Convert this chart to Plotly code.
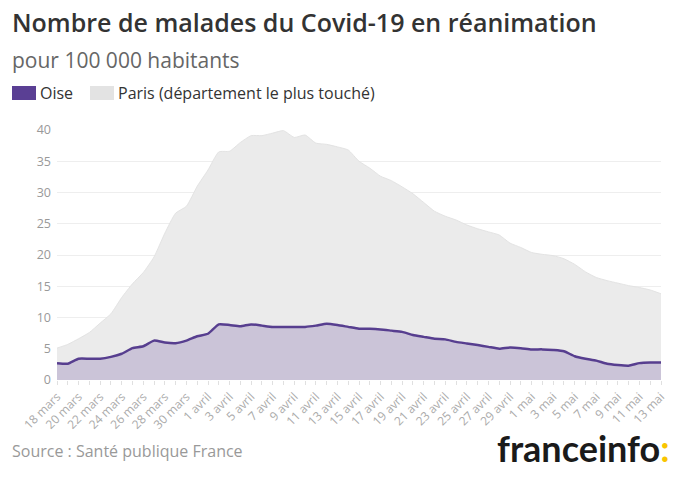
import datetime as dt
import plotly.graph_objects as go

# ---- data ----
start = dt.date(2020, 3, 18)
dates = [(start + dt.timedelta(days=i)).isoformat() for i in range(57)]

oise = [2.7, 2.6, 3.4, 3.4, 3.4, 3.7, 4.2, 5.1, 5.4, 6.3,
        6.0, 5.9, 6.3, 7.0, 7.4, 8.9, 8.8, 8.6, 8.9, 8.7,
        8.5, 8.5, 8.5, 8.5, 8.7, 9.0, 8.8, 8.5, 8.2, 8.2,
        8.1, 7.9, 7.7, 7.2, 6.9, 6.6, 6.5, 6.1, 5.85, 5.6,
        5.3, 5.0, 5.2, 5.1, 4.9, 4.9, 4.8, 4.6, 3.8, 3.4,
        3.1, 2.6, 2.4, 2.3, 2.7, 2.8, 2.8]

paris = [5.1, 5.7, 6.6, 7.6, 9.1, 10.6, 13.2, 15.4, 17.2, 19.7,
         23.5, 26.7, 27.8, 31.0, 33.6, 36.5, 36.6, 38.0, 39.1, 39.1,
         39.5, 39.9, 38.8, 39.2, 37.9, 37.7, 37.3, 36.8, 35.0, 33.9,
         32.6, 31.9, 30.9, 29.8, 28.4, 27.0, 26.2, 25.6, 24.8, 24.2,
         23.7, 23.2, 21.9, 21.2, 20.4, 20.1, 19.9, 19.4, 18.5, 17.3,
         16.4, 15.9, 15.5, 15.1, 14.8, 14.4, 13.8]

months = {3: "mars", 4: "avril", 5: "mai"}
tick_labels = []
for i in range(57):
    d = start + dt.timedelta(days=i)
    tick_labels.append(f"{d.day} {months[d.month]}" if i % 2 == 0 else "")

y_ticks = [0, 5, 10, 15, 20, 25, 30, 35, 40]

# ---- figure ----
W, H = 680, 480
L, R, T, B = 57, 19, 130, 100
pw, ph = W - L - R, H - T - B


def px(x):
    return (x - L) / pw


def py(y):
    return (H - B - y) / ph


FONT = "Open Sans"
fig = go.Figure()
fig.add_trace(go.Scatter(
    x=dates, y=paris, mode="lines", fill="tozeroy",
    fillcolor="#ebebeb", line=dict(color="#e3e3e3", width=1, shape="spline", smoothing=0.5),
    name="Paris (département le plus touché)", hoverinfo="skip"))
fig.add_trace(go.Scatter(
    x=dates, y=oise, mode="lines", fill="tozeroy",
    fillcolor="#cbc4d8", line=dict(color="#573e8f", width=2.5, shape="spline", smoothing=0.5),
    name="Oise", hoverinfo="skip"))

fig.update_layout(
    width=W, height=H,
    margin=dict(l=L, r=R, t=T, b=B, autoexpand=False),
    paper_bgcolor="white", plot_bgcolor="white",
    showlegend=False,
    font=dict(family=FONT, color="#999999", size=12),
)
fig.update_xaxes(
    range=[dates[0], dates[-1]], tickmode="array", tickvals=dates, ticktext=tick_labels,
    tickangle=-45, ticks="outside", ticklen=4, tickcolor="#e0e0e0",
    showgrid=False, showline=False, zeroline=False, automargin=False,
    tickfont=dict(family=FONT, size=12, color="#aaaaaa"))
fig.update_yaxes(
    range=[0, 40], tickvals=y_ticks, showgrid=True, gridcolor="#eeeeee", gridwidth=1,
    zeroline=False, showline=False, ticks="", ticklabelstandoff=5, automargin=False,
    tickfont=dict(family=FONT, size=12.5, color="#999999"))

ann = []
ann.append(dict(x=px(10), y=py(22), xref="paper", yref="paper", xanchor="left", yanchor="middle",
                text="Nombre de malades du Covid-19 en réanimation", showarrow=False,
                font=dict(family=FONT, size=25, color="#333333", weight=600)))
ann.append(dict(x=px(10), y=py(60), xref="paper", yref="paper", xanchor="left", yanchor="middle",
                text="pour 100 000 habitants", showarrow=False,
                font=dict(family=FONT, size=21, color="#666666")))
ann.append(dict(x=px(38), y=py(93), xref="paper", yref="paper", xanchor="left", yanchor="middle",
                text="Oise", showarrow=False, font=dict(family=FONT, size=16, color="#333333")))
ann.append(dict(x=px(116), y=py(93), xref="paper", yref="paper", xanchor="left", yanchor="middle",
                text="Paris (département le plus touché)", showarrow=False,
                font=dict(family=FONT, size=16, color="#333333")))
ann.append(dict(x=px(10), y=py(451), xref="paper", yref="paper", xanchor="left", yanchor="middle",
                text="Source : Santé publique France", showarrow=False,
                font=dict(family=FONT, size=16, color="#999999")))
ann.append(dict(x=px(671), y=py(448), xref="paper", yref="paper", xanchor="right", yanchor="middle",
                text="<b>franceinfo</b><b><span style='color:#f9c500'>:</span></b>", showarrow=False,
                font=dict(family="Lato", size=36, color="#1a1a1a")))
fig.update_layout(annotations=ann)

fig.add_shape(type="rect", xref="paper", yref="paper", x0=px(12), x1=px(36), y0=py(86), y1=py(100),
              fillcolor="#5a3f94", line=dict(width=0), layer="above")
fig.add_shape(type="rect", xref="paper", yref="paper", x0=px(90), x1=px(114), y0=py(86), y1=py(100),
              fillcolor="#e3e3e3", line=dict(width=0), layer="above")

fig.write_html("out.html", config={"displayModeBar": False},
               post_script="document.body.style.margin='0';document.body.style.padding='0';")
